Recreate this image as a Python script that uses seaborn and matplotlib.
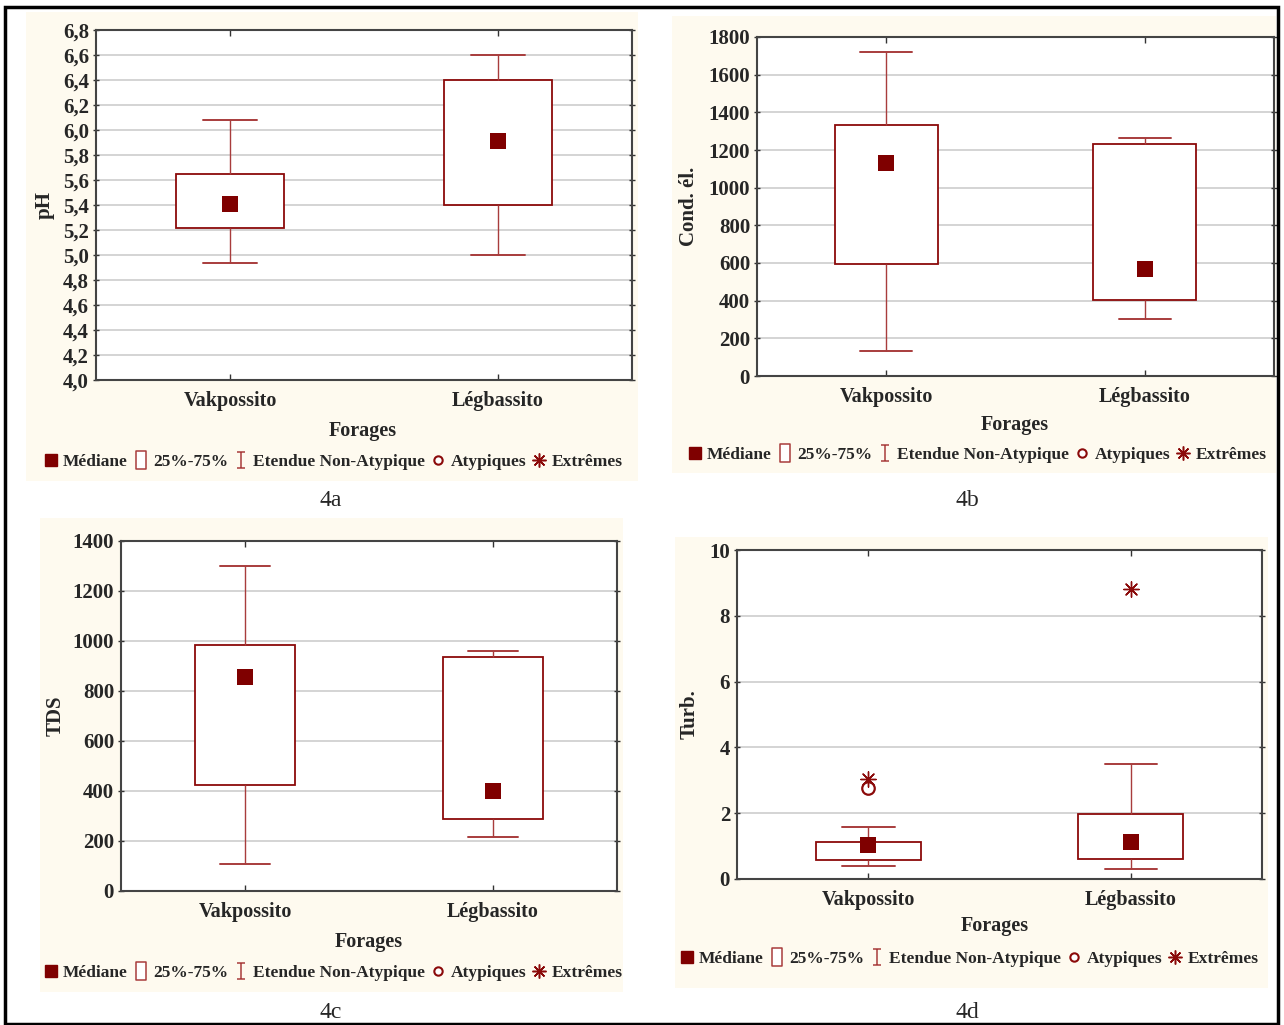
import numpy as np
import pandas as pd
import matplotlib
matplotlib.use("Agg")
import matplotlib.pyplot as plt
import seaborn as sns
from matplotlib.lines import Line2D
from matplotlib.patches import Rectangle
from matplotlib.path import Path

# ---------------- data ----------------
categories = ["Vakpossito", "Légbassito"]

ph_low = [4.94, 5.00]
ph_q1 = [5.22, 5.40]
ph_med = [5.41, 5.91]
ph_q3 = [5.65, 6.40]
ph_high = [6.08, 6.60]
ph_ticks = [4.0, 4.2, 4.4, 4.6, 4.8, 5.0, 5.2, 5.4, 5.6, 5.8, 6.0, 6.2, 6.4, 6.6, 6.8]
ph_ticklabels = ["4,0", "4,2", "4,4", "4,6", "4,8", "5,0", "5,2", "5,4", "5,6",
                 "5,8", "6,0", "6,2", "6,4", "6,6", "6,8"]

cond_low = [131, 305]
cond_q1 = [594, 406]
cond_med = [1131, 567]
cond_q3 = [1335, 1234]
cond_high = [1718, 1266]
cond_ticks = [0, 200, 400, 600, 800, 1000, 1200, 1400, 1600, 1800]

tds_low = [109, 217]
tds_q1 = [423, 289]
tds_med = [856, 401]
tds_q3 = [983, 936]
tds_high = [1300, 959]
tds_ticks = [0, 200, 400, 600, 800, 1000, 1200, 1400]

turb_low = [0.40, 0.30]
turb_q1 = [0.58, 0.61]
turb_med = [1.03, 1.11]
turb_q3 = [1.13, 1.99]
turb_high = [1.59, 3.50]
turb_ticks = [0, 2, 4, 6, 8, 10]
turb_outlier_cat = ["Vakpossito"]
turb_outlier_val = [2.76]
turb_extreme_cat = ["Vakpossito", "Légbassito"]
turb_extreme_val = [3.03, 8.80]

ylabels = ["pH", "Cond. él.", "TDS", "Turb."]
xlabel = "Forages"
captions = ["4a", "4b", "4c", "4d"]
legend_labels = ["Médiane", "25%-75%", "Etendue Non-Atypique", "Atypiques", "Extrêmes"]

# ---------------- style ----------------
sns.set_style("white")
plt.rcParams["font.family"] = ["Liberation Serif", "DejaVu Serif"]

BOX = "#8B0A0A"
WHISK = "#A83C3C"
MED = "#7F0000"
CREAM = "#FEFAEF"
SPINE = "#444444"
GRID = "#C9C9C9"

W, H = 1284, 1025
fig = plt.figure(figsize=(W / 100, H / 100), dpi=100)


def fx(x):
    return x / W


def fy(y):
    return 1 - y / H


def rect_px(l, t, r, b):
    return [fx(l), fy(b), (r - l) / W, (b - t) / H]


# cream panels
for (l, t, r, b) in [(26, 12, 638, 481), (672, 16, 1276, 473),
                     (40, 518, 623, 992), (675, 537, 1268, 988)]:
    fig.patches.append(Rectangle((fx(l), fy(b)), (r - l) / W, (b - t) / H,
                                 transform=fig.transFigure, facecolor=CREAM,
                                 edgecolor="none", zorder=-10))

# outer border
fig.patches.append(Rectangle((fx(5), fy(1024)), (1278 - 5) / W, (1024 - 7) / H,
                             transform=fig.transFigure, facecolor="none",
                             edgecolor="black", linewidth=2.5, zorder=10))

axes_px = [(96, 30, 632, 380), (757, 37, 1274, 376),
           (121, 541, 617, 891), (737, 550, 1262, 879)]
ylabel_x = [-0.078, -0.112, -0.111, -0.072]


def draw_box(ax, low, q1, med, q3, high):
    vals = []
    cats = []
    for i, c in enumerate(categories):
        vals += [low[i], q1[i], med[i], q3[i], high[i]]
        cats += [c] * 5
    df = pd.DataFrame({"Forages": cats, "val": vals})
    sns.boxplot(data=df, x="Forages", y="val", order=categories, whis=(0, 100),
                width=0.4, color="white", linecolor=BOX, linewidth=1.3,
                showfliers=False, medianprops=dict(linewidth=0),
                whiskerprops=dict(color=WHISK, linewidth=1.0),
                capprops=dict(color=WHISK, linewidth=1.4), ax=ax)
    sns.stripplot(x=categories, y=med, order=categories, jitter=False, marker="s",
                  size=11, color=MED, linewidth=0, ax=ax, zorder=5)


def style_ax(ax, ticks, ticklabels, ylim, ylabel, xlab_x):
    ax.set_facecolor("white")
    ax.set_ylim(*ylim)
    ax.set_xlim(-0.5, 1.5)
    ax.set_yticks(ticks)
    ax.set_yticklabels(ticklabels)
    ax.set_axisbelow(True)
    ax.yaxis.grid(True, color=GRID, linewidth=1.1)
    ax.xaxis.grid(False)
    for s in ax.spines.values():
        s.set_visible(True)
        s.set_color(SPINE)
        s.set_linewidth(1.5)
    ax.tick_params(axis="y", left=True, right=True, direction="inout", length=4,
                   width=1, color="#333333", labelsize=15, pad=3)
    ax.tick_params(axis="x", bottom=True, top=True, direction="in", length=4,
                   width=1, color="#333333", labelsize=14.5, pad=8)
    for lab in ax.get_xticklabels() + ax.get_yticklabels():
        lab.set_fontweight("bold")
    ax.set_xlabel("")
    ax.set_ylabel(ylabel, fontsize=15, fontweight="bold")
    ax.yaxis.set_label_coords(xlab_x, 0.5)


datasets = [
    (ph_low, ph_q1, ph_med, ph_q3, ph_high, ph_ticks, ph_ticklabels, (4.0, 6.8)),
    (cond_low, cond_q1, cond_med, cond_q3, cond_high, cond_ticks,
     [str(t) for t in cond_ticks], (0, 1800)),
    (tds_low, tds_q1, tds_med, tds_q3, tds_high, tds_ticks,
     [str(t) for t in tds_ticks], (0, 1400)),
    (turb_low, turb_q1, turb_med, turb_q3, turb_high, turb_ticks,
     [str(t) for t in turb_ticks], (0, 10)),
]

axes = []
for i, (px, d) in enumerate(zip(axes_px, datasets)):
    ax = fig.add_axes(rect_px(*px))
    low, q1, med, q3, high, ticks, tlabels, ylim = d
    draw_box(ax, low, q1, med, q3, high)
    if i == 3:
        sns.stripplot(x=turb_outlier_cat, y=turb_outlier_val, order=categories,
                      jitter=False, marker="o", size=9, color="white",
                      edgecolor=BOX, linewidth=1.6, ax=ax, zorder=6)
        sns.stripplot(x=turb_extreme_cat, y=turb_extreme_val, order=categories,
                      jitter=False, marker=(8, 2, 0), size=11, color=BOX,
                      linewidth=1.0, ax=ax, zorder=7)
    style_ax(ax, ticks, tlabels, ylim, ylabels[i], ylabel_x[i])
    axes.append(ax)

# legend handles
ibeam = Path([(-0.5, 1), (0.5, 1), (0, 1), (0, -1), (-0.5, -1), (0.5, -1)],
             [Path.MOVETO, Path.LINETO, Path.MOVETO, Path.LINETO, Path.MOVETO, Path.LINETO])
tallrect = Path([(-0.32, -0.55), (0.32, -0.55), (0.32, 0.55), (-0.32, 0.55), (-0.32, -0.55)],
                [Path.MOVETO, Path.LINETO, Path.LINETO, Path.LINETO, Path.CLOSEPOLY])
handles = [
    Line2D([], [], linestyle="none", marker="s", markersize=9, color=MED),
    Line2D([], [], linestyle="none", marker=tallrect, markersize=13,
           markerfacecolor="white", markeredgecolor=WHISK, markeredgewidth=1.1),
    Line2D([], [], linestyle="none", marker=ibeam, markersize=12,
           color=WHISK, markeredgewidth=1.1),
    Line2D([], [], linestyle="none", marker="o", markersize=6,
           markerfacecolor="white", markeredgecolor=BOX, markeredgewidth=1.5),
    Line2D([], [], linestyle="none", marker=(8, 2, 0), markersize=10,
           color=BOX, markeredgewidth=1.1),
]

xlabel_pos = [(363, 431), (1015, 425), (369, 942), (995, 926)]
legend_pos = [(333, 462), (977, 455), (333, 973), (969, 959)]
caption_pos = [(331, 500), (967, 500), (331, 1012), (967, 1012)]

for i in range(4):
    fig.text(fx(xlabel_pos[i][0]), fy(xlabel_pos[i][1]), xlabel, ha="center",
             va="center", fontsize=14.5, fontweight="bold")
    fig.legend(handles=handles, labels=legend_labels, loc="center",
               bbox_to_anchor=(fx(legend_pos[i][0]), fy(legend_pos[i][1])),
               ncol=5, frameon=False, handlelength=0.8, handletextpad=0.3,
               columnspacing=0.35, borderpad=0, borderaxespad=0,
               prop=dict(size=12.5, weight="bold"))
    fig.text(fx(caption_pos[i][0]), fy(caption_pos[i][1]), captions[i],
             ha="center", va="center", fontsize=17)

fig.savefig("out.png", dpi=100, facecolor="white")
